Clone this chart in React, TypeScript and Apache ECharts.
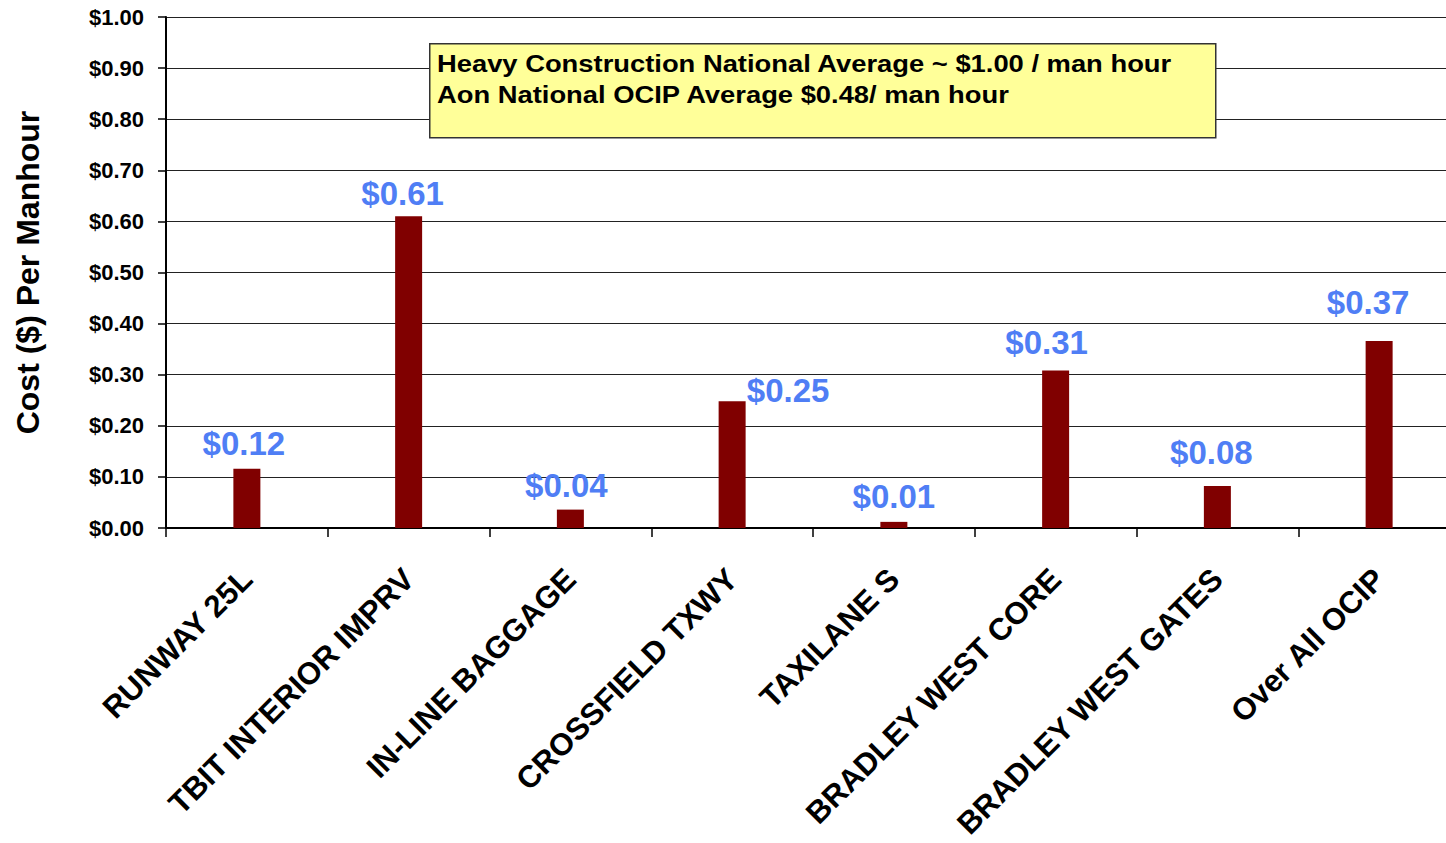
import React, { useEffect, useRef } from "react";
import * as echarts from "echarts";

const categories = [
  "RUNWAY 25L",
  "TBIT INTERIOR IMPRV",
  "IN-LINE BAGGAGE",
  "CROSSFIELD TXWY",
  "TAXILANE S",
  "BRADLEY WEST CORE",
  "BRADLEY WEST GATES",
  "Over All OCIP",
];
const costPerManhour = [0.116, 0.61, 0.036, 0.248, 0.012, 0.308, 0.082, 0.366];
const labelShift: [number, number][] = [
  [-3, 0],
  [-6, 3],
  [-4, 1],
  [56, 15],
  [0, 0],
  [-9, -3],
  [-6, -8],
  [-11, -13],
];
const noteLines = [
  "Heavy Construction National Average ~ $1.00 / man hour",
  "Aon National OCIP Average $0.48/ man hour",
];
const yAxisName = "Cost ($) Per Manhour";

const FONT = "'Liberation Sans', Arial, sans-serif";

export default function App() {
  const ref = useRef<HTMLDivElement>(null);
  useEffect(() => {
    if (!ref.current) return;
    const chart = echarts.init(ref.current, null, { renderer: "svg" });
    chart.setOption({
      animation: false,
      backgroundColor: "#ffffff",
      textStyle: { fontFamily: FONT },
      grid: {
        left: 166,
        top: 17,
        width: 1294,
        height: 511,
        containLabel: false,
        outerBoundsMode: "none",
      },
      xAxis: {
        type: "category",
        data: categories,
        axisLine: { lineStyle: { color: "#000", width: 2 } },
        axisTick: { show: true, length: 9, lineStyle: { color: "#000", width: 1.5 } },
        axisLabel: {
          rotate: 45,
          interval: 0,
          margin: 46,
          color: "#000",
          fontWeight: "bold",
          fontSize: 31,
          fontFamily: FONT,
        },
      },
      yAxis: {
        type: "value",
        min: 0,
        max: 1,
        interval: 0.1,
        name: yAxisName,
        nameLocation: "middle",
        nameRotate: 90,
        nameGap: 122,
        nameTextStyle: { fontSize: 32, fontWeight: "bold", color: "#000", fontFamily: FONT },
        axisLine: { show: true, lineStyle: { color: "#000", width: 2 } },
        axisTick: { show: true, length: 8, lineStyle: { color: "#000", width: 1.5 } },
        axisLabel: {
          margin: 22,
          color: "#000",
          fontWeight: "bold",
          fontSize: 22,
          fontFamily: FONT,
          formatter: (v: number) => "$" + v.toFixed(2),
        },
        splitLine: { show: true, lineStyle: { color: "#222", width: 1.2 } },
      },
      series: [
        {
          type: "bar",
          barWidth: 27,
          itemStyle: { color: "#800000" },
          data: costPerManhour.map((v, i) => ({
            value: v,
            label: { offset: labelShift[i] },
          })),
          label: {
            show: true,
            position: "top",
            distance: 9,
            color: "#4f7ef5",
            fontSize: 33,
            fontWeight: "bold",
            fontFamily: FONT,
            formatter: (p: any) => "$" + Number(p.value).toFixed(2),
          },
        },
      ],
      graphic: [
        {
          type: "rect",
          left: 429,
          top: 43,
          shape: { x: 0, y: 0, width: 786, height: 94 },
          style: { fill: "#ffff99", stroke: "#333", lineWidth: 1.5 },
          z: 100,
        },
        {
          type: "text",
          x: 437,
          y: 48,
          scaleX: 1.14,
          style: {
            text: noteLines.join("\n"),
            font: "bold 24px " + FONT,
            lineHeight: 31,
            fill: "#000",
          },
          z: 101,
        },
      ],
    });
    return () => chart.dispose();
  }, []);
  return (
    <div
      ref={ref}
      style={{ position: "fixed", left: 0, top: 0, width: 1446, height: 843, background: "#fff" }}
    />
  );
}
